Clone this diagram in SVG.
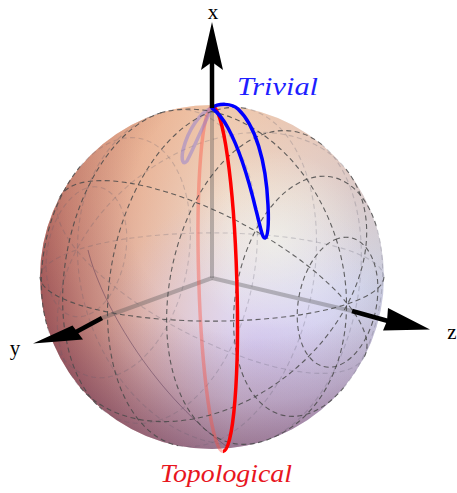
<svg xmlns="http://www.w3.org/2000/svg" width="457" height="493" viewBox="0 0 457 493">
<style>
.gf{fill:none;stroke:#4a4a4a;stroke-opacity:0.85;stroke-width:1.1;stroke-dasharray:5 3.5;vector-effect:non-scaling-stroke}
.gb{fill:none;stroke:#5a5a6a;stroke-opacity:0.25;stroke-width:1.1;stroke-dasharray:5 3.5;vector-effect:non-scaling-stroke}
.ax{stroke:#000;stroke-width:4.5;fill:none}
.axi{stroke:#505050;stroke-opacity:0.35;stroke-width:4;fill:none}
.lbl{font-family:"Liberation Serif",serif;font-size:21px;fill:#000}
.cap{font-family:"Liberation Serif",serif;font-style:italic;font-size:26px}
</style>
<defs>
<linearGradient id="lx" gradientUnits="userSpaceOnUse" x1="40" y1="0" x2="384" y2="0">
<stop offset="0" stop-color="#c27468"/><stop offset="0.3" stop-color="#e6bcaa"/><stop offset="0.55" stop-color="#eee8e2"/><stop offset="0.8" stop-color="#dfe1ec"/><stop offset="1" stop-color="#cdd3e5"/>
</linearGradient>
<linearGradient id="top" gradientUnits="userSpaceOnUse" x1="0" y1="105" x2="0" y2="290">
<stop offset="0" stop-color="#f0a878" stop-opacity="0.5"/><stop offset="1" stop-color="#f0a878" stop-opacity="0"/>
</linearGradient>
<linearGradient id="bot" gradientUnits="userSpaceOnUse" x1="0" y1="320" x2="0" y2="450">
<stop offset="0" stop-color="#6a3a78" stop-opacity="0"/><stop offset="1" stop-color="#6a3a78" stop-opacity="0.32"/>
</linearGradient>
<radialGradient id="lav" gradientUnits="userSpaceOnUse" cx="255" cy="345" r="155">
<stop offset="0" stop-color="#c8b8ff" stop-opacity="0.5"/><stop offset="1" stop-color="#c8b8ff" stop-opacity="0"/>
</radialGradient>
<radialGradient id="rim" gradientUnits="userSpaceOnUse" cx="258" cy="210" r="255">
<stop offset="0.5" stop-color="#6a2840" stop-opacity="0"/><stop offset="0.75" stop-color="#6a2840" stop-opacity="0.15"/><stop offset="1" stop-color="#5a2040" stop-opacity="0.45"/>
</radialGradient>
<radialGradient id="hl" gradientUnits="userSpaceOnUse" cx="275" cy="240" r="90">
<stop offset="0" stop-color="#f8fff0" stop-opacity="0.55"/><stop offset="1" stop-color="#f8fff0" stop-opacity="0"/>
</radialGradient>
</defs>

<g id="sphere">
<circle cx="212" cy="277" r="172" fill="url(#lx)"/>
<circle cx="212" cy="277" r="172" fill="url(#top)"/>
<circle cx="212" cy="277" r="172" fill="url(#lav)"/>
<circle cx="212" cy="277" r="172" fill="url(#bot)"/>
<circle cx="212" cy="277" r="172" fill="url(#rim)"/>
<circle cx="212" cy="277" r="172" fill="url(#hl)"/>
</g>

<g id="grid-back">
<path class="gb" transform="matrix(0,-117.45,-74.53,24.96,308.10,296.30)" d="M-0.8785,-0.4777 A1,1 0 0 1 0.4063,-0.9137"/>
<path class="gb" transform="matrix(0,-153.46,-97.38,32.61,264.01,287.45)" d="M-0.9998,0.0181 A1,1 0 0 1 0.8042,-0.5943"/>
<path class="gb" transform="matrix(0,-166.1,-105.4,35.3,212,277)" d="M-0.9469,0.3214 A1,1 0 0 1 0.9469,-0.3214"/>
<path class="gb" transform="matrix(0,-153.46,-97.38,32.61,159.99,266.55)" d="M-0.8042,0.5943 A1,1 0 1 1 0.9998,-0.0181"/>
<path class="gb" transform="matrix(0,-117.45,-74.53,24.96,115.90,257.70)" d="M-0.4063,0.9137 A1,1 0 1 1 0.8785,0.4777"/>
<circle class="gb" r="1" transform="matrix(0,-63.57,-40.34,13.51,86.44,251.78)"/>
<path class="gb" transform="matrix(135.9,27.3,0,-166.1,212,277)" d="M-0.4008,0.9161 A1,1 0 0 1 0.4008,-0.9161"/>
<path class="gb" transform="matrix(135.9,27.3,-74.53,-92.49,212,277)" d="M-0.7736,0.6337 A1,1 0 0 1 0.7736,-0.6337"/>
<path class="gb" transform="matrix(135.9,27.3,-105.4,35.3,212,277)" d="M-0.7900,0.6130 A1,1 0 0 1 0.7900,-0.6130"/>
<path class="gb" transform="matrix(135.9,27.3,-74.53,142.41,212,277)" d="M-0.5158,0.8567 A1,1 0 0 1 0.5158,-0.8567"/>
<path d="M88,250 C100,300 150,390 226,446" fill="none" stroke="#503050" stroke-opacity="0.45" stroke-width="1"/>
</g>

<g id="axes-inner">
<line class="axi" x1="212" y1="278" x2="212" y2="107"/>
<line class="axi" x1="212" y1="278" x2="102" y2="318"/>
<line class="axi" x1="212" y1="278" x2="352" y2="311"/>
</g>

<g id="curves-back">
<path d="M223,451.5 A19,172.3 -1.75 0 1 212.5,106.5" fill="none" stroke="#ff4a3a" stroke-opacity="0.38" stroke-width="3.5"/>
<path d="M212,108 C200,112 188,130 183,150 C181,160 183,166 187,161 C193,150 201,130 212,108" fill="none" stroke="#8878d8" stroke-opacity="0.45" stroke-width="3.5"/>
</g>

<g id="grid-front">
<circle class="gf" r="1" transform="matrix(0,-63.57,-40.34,13.51,337.56,302.22)"/>
<path class="gf" transform="matrix(0,-117.45,-74.53,24.96,308.10,296.30)" d="M0.4063,-0.9137 A1,1 0 1 1 -0.8785,-0.4777"/>
<path class="gf" transform="matrix(0,-153.46,-97.38,32.61,264.01,287.45)" d="M0.8042,-0.5943 A1,1 0 1 1 -0.9998,0.0181"/>
<path class="gf" transform="matrix(0,-166.1,-105.4,35.3,212,277)" d="M0.9469,-0.3214 A1,1 0 0 1 -0.9469,0.3214"/>
<path class="gf" transform="matrix(0,-153.46,-97.38,32.61,159.99,266.55)" d="M0.9998,-0.0181 A1,1 0 0 1 -0.8042,0.5943"/>
<path class="gf" transform="matrix(0,-117.45,-74.53,24.96,115.90,257.70)" d="M0.8785,0.4777 A1,1 0 0 1 -0.4063,0.9137"/>
<path class="gf" transform="matrix(135.9,27.3,0,-166.1,212,277)" d="M0.4008,-0.9161 A1,1 0 0 1 -0.4008,0.9161"/>
<path class="gf" transform="matrix(135.9,27.3,-74.53,-92.49,212,277)" d="M0.7736,-0.6337 A1,1 0 0 1 -0.7736,0.6337"/>
<path class="gf" transform="matrix(135.9,27.3,-105.4,35.3,212,277)" d="M0.7900,-0.6130 A1,1 0 0 1 -0.7900,0.6130"/>
<path class="gf" transform="matrix(135.9,27.3,-74.53,142.41,212,277)" d="M0.5158,-0.8567 A1,1 0 0 1 -0.5158,0.8567"/>
</g>

<g id="curve-topological">
<path d="M212.5,106.5 A19,172.3 -1.75 0 1 223,451.5" fill="none" stroke="#ff0000" stroke-width="3.5"/>
</g>
<g id="curve-trivial">
<path d="M212,108 C218,103 232,103 238,109 C255,125 266,160 268,205 C269,225 268,237 265,238 C262,238 260,225 256,210 C250,185 240,150 228,128 C222,117 216,111 212,108 Z" fill="none" stroke="#0000ff" stroke-width="3.5" stroke-linejoin="round"/>
</g>

<g id="axis-x">
<line class="ax" x1="212" y1="108" x2="212" y2="62"/>
<polygon points="212,22 223,70 212,62 201,70" fill="#000"/>
<text class="lbl" x="213" y="19" text-anchor="middle">x</text>
</g>
<g id="axis-y">
<line class="ax" x1="102" y1="318" x2="76" y2="332"/>
<polygon points="33,343.5 72.5,325.5 77,331.5 83,339.5" fill="#000"/>
<text class="lbl" x="15" y="355" text-anchor="middle">y</text>
</g>
<g id="axis-z">
<line class="ax" x1="352" y1="311" x2="388" y2="321"/>
<polygon points="430,329.5 388,308 387,321 383,330.5" fill="#000"/>
<text class="lbl" x="452" y="339" text-anchor="middle">z</text>
</g>

<text class="cap" x="237" y="95" fill="#1f1fff" textLength="81" lengthAdjust="spacingAndGlyphs">Trivial</text>
<text class="cap" x="160" y="482" fill="#e8161e" textLength="132" lengthAdjust="spacingAndGlyphs">Topological</text>
</svg>
